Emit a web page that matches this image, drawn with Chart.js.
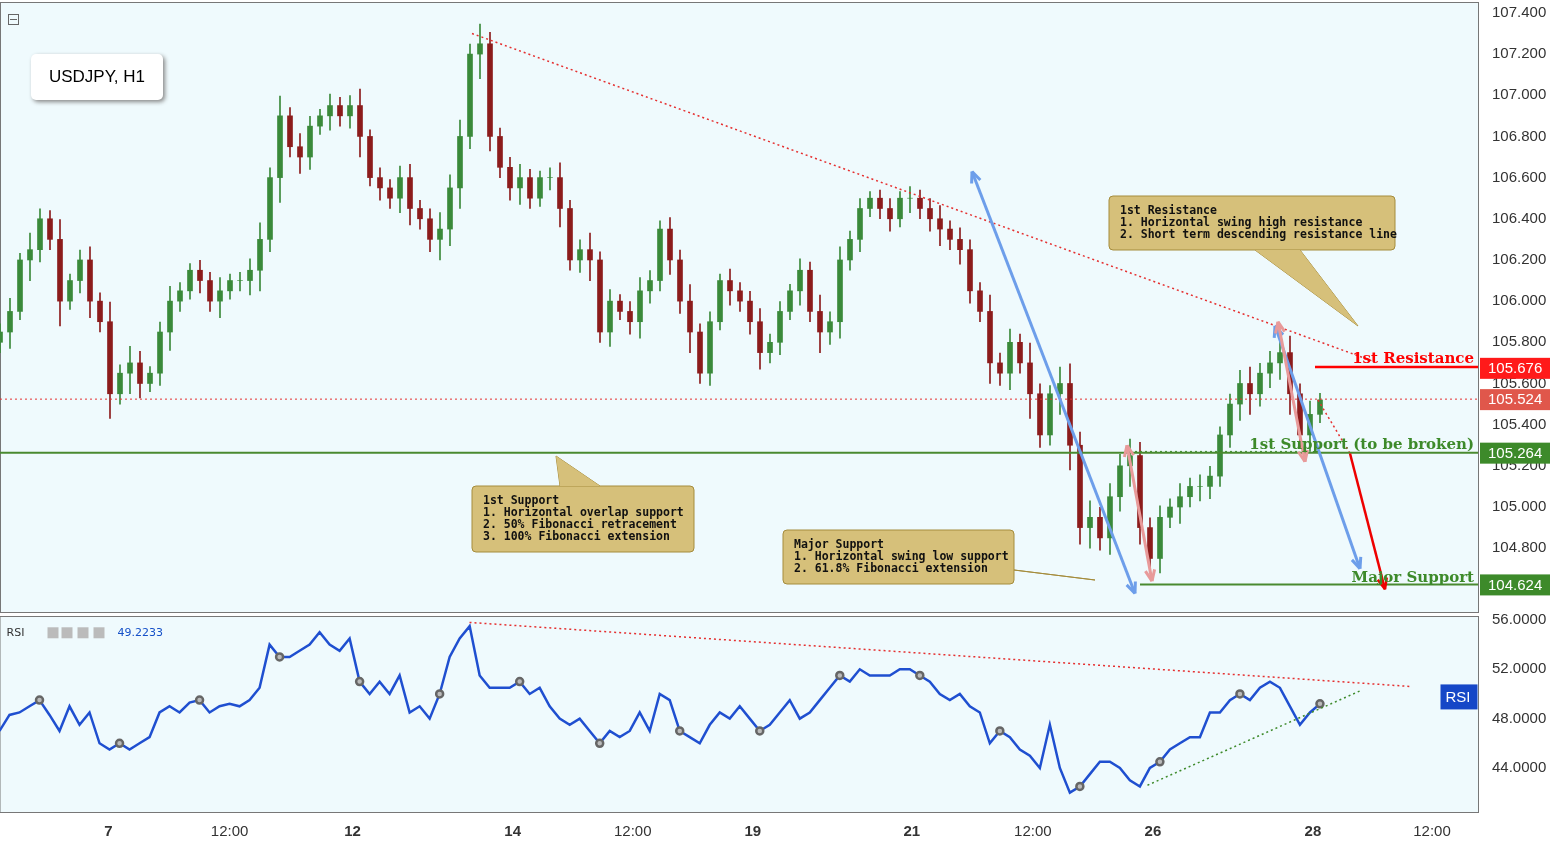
<!DOCTYPE html>
<html><head><meta charset="utf-8">
<script src="https://cdn.jsdelivr.net/npm/chart.js@4"></script>
<style>
body{margin:0;background:#fff;width:1553px;height:845px;overflow:hidden;font-family:"DejaVu Sans",sans-serif}
#w1{position:absolute;left:0;top:-13px;width:1553px;height:640px}
#w2{position:absolute;left:-7px;top:601px;width:1560px;height:244px}
.box{position:absolute;left:31px;top:54px;width:132px;height:46px;background:#fff;border-radius:5px;box-shadow:2px 2px 4px #888;font:17px "Liberation Sans",sans-serif;line-height:46px;text-align:center}
</style></head><body>
<div id="w2"><canvas id="c2"></canvas></div>
<div id="w1"><canvas id="c1"></canvas></div>
<div class="box">USDJPY, H1</div>
<script>
const closes=[105.85,105.95,106.2,106.25,106.4,106.3,106.0,106.1,106.2,106.0,105.9,
105.55,105.65,105.7,105.6,105.65,105.85,106.0,106.05,106.15,106.1,
106.0,106.05,106.1,106.1,106.15,106.3,106.6,106.9,106.75,106.7,
106.85,106.9,106.95,106.9,106.95,106.8,106.6,106.55,106.5,106.6,
106.45,106.4,106.3,106.35,106.55,106.8,107.2,107.25,106.8,106.65,
106.55,106.6,106.5,106.6,106.6,106.45,106.2,106.25,106.2,105.85,
106.0,105.95,105.9,106.05,106.1,106.35,106.2,106.0,105.85,105.65,
105.9,106.1,106.05,106.0,105.9,105.75,105.8,105.95,106.05,106.15,
105.95,105.85,105.9,106.2,106.3,106.45,106.5,106.45,106.4,106.5,
106.5,106.45,106.4,106.35,106.3,106.25,106.05,105.95,105.7,105.65,
105.8,105.7,105.55,105.35,105.55,105.6,105.3,104.9,104.95,104.85,
105.05,105.2,105.25,104.9,104.75,104.95,105.0,105.05,105.1,105.1,
105.15,105.35,105.5,105.6,105.55,105.65,105.7,105.75,105.55,105.35,
105.45,105.52];
const wick=[.05,.08,.04,.1,.06,.05,.12,.04,.06,.08,.05,.12,.05,.1,.07,.04,.06,.09,.05,.04,.06,.05,.08,.04,.05,.07,.1,.06,.12,.05,.08,.06,.04,.07,.05,.06,.1,.04,.06,.05,.07,.08,.05,.06,.1,.08,.1,.06,.12,.07,.05,.06,.08,.05,.04,.06,.09,.05,.06,.1,.05,.07,.04,.06,.08,.06,.05,.07,.06,.1,.05,.06,.04,.07,.05,.06,.08,.05,.06,.04,.07,.05,.1,.06,.08,.05,.06,.04,.05,.06,.04,.07,.05,.06,.08,.05,.07,.06,.05,.1,.06,.08,.05,.12,.06,.05,.1,.12,.08,.1,.06,.08,.07,.1,.08,.06,.07,.05,.08,.05,.07,.06,.05,.06,.08,.1,.06,.07,.08,.1,.06,.08,.04];
const rsi=[47,48.3,48.5,49,49.5,48.3,47,49,47.5,48.5,46,
45.5,46,45.5,46,46.5,48.5,49,48.5,49.3,49.5,
48.5,49,49.2,49,49.5,50.5,54,53,53,53.5,
54,55,54,53.5,54.5,51,50,51,50,51.5,
48.5,49,48,50,53,54.5,55.5,51.5,50.5,50.5,
50.5,51,50,50.5,49,48,47.5,48,47,46,
47,46.5,47,48.5,47,50,49.5,47,46.5,46,
47.5,48.5,48,49,48,47,47.5,48.5,49.5,48,
48.5,49.5,50.5,51.5,51,52,51.5,51.5,51.5,52,
52,51.5,51,50,49.5,50,49,48.5,46,47,
46.5,45.5,45,44,47.5,44,42,42.5,43.5,44.5,
44.5,44,43,42.5,44,44.5,45.5,46,46.5,46.5,
48.5,48.5,49.5,50,49.5,50.5,51,50.5,49,47.5,
48.5,49.2];
const tickVals=[10.9,23,35.3,51.3,63.3,75.3,91.2,103.3,115.3,131.3,143.2];
const tickLabels=['7','12:00','12','14','12:00','19','21','12:00','26','28','12:00'];
const priceTicks=[107.4,107.2,107.0,106.8,106.6,106.4,106.2,106.0,105.8,105.6,105.4,105.2,105.0,104.8];
const rsiTicks=[56,52,48,44];
const levels={res:105.676,last:105.524,sup:105.264,major:104.624};

const opens=closes.map((c,i)=>i?closes[i-1]:c-0.05);
const body=closes.map((c,i)=>({x:i,y:[opens[i],c]}));
const wk=closes.map((c,i)=>({x:i,y:[Math.min(opens[i],c)-wick[i],Math.max(opens[i],c)+wick[i]*0.8]}));
const col=closes.map((c,i)=>c>=opens[i]?'#3a8a3a':'#8c1c1c');
const BG='#effafd';
const bgPlug={id:'bg',beforeDraw(ch){const a=ch.chartArea,x=ch.ctx;x.save();x.fillStyle=BG;x.fillRect(a.left,a.top,a.right-a.left,a.bottom-a.top);x.strokeStyle='#777';x.lineWidth=1;x.strokeRect(a.left+.5,a.top+.5,a.right-a.left,a.bottom-a.top);x.restore();}};
const yFit=s=>{s.width=75};
function arrow(c,x1,y1,x2,y2,color,w,both){c.save();c.strokeStyle=color;c.fillStyle=color;c.lineWidth=w;c.beginPath();c.moveTo(x1,y1);c.lineTo(x2,y2);c.stroke();
 const head=(ax,ay,bx,by)=>{const a=Math.atan2(by-ay,bx-ax);c.beginPath();c.moveTo(bx,by);c.lineTo(bx-12*Math.cos(a-0.4),by-12*Math.sin(a-0.4));c.moveTo(bx,by);c.lineTo(bx-12*Math.cos(a+0.4),by-12*Math.sin(a+0.4));c.stroke();};
 head(x1,y1,x2,y2);if(both)head(x2,y2,x1,y1);c.restore();}
function callout(c,x,y,w,h,lines,tx,ty,bx1,bx2,by){c.save();c.fillStyle='#d6c07a';c.strokeStyle='#a58c3c';c.lineWidth=1;
 c.beginPath();c.moveTo(bx1,by);c.lineTo(tx,ty);c.lineTo(bx2,by);c.fill();c.stroke();
 c.beginPath();c.roundRect(x,y,w,h,4);c.fill();c.stroke();
 c.beginPath();c.moveTo(bx1,by);c.lineTo(tx,ty);c.lineTo(bx2,by);c.closePath();c.fill();
 c.fillStyle='#111';c.font='bold 11.5px "DejaVu Sans Mono",monospace';lines.forEach((l,i)=>c.fillText(l,x+11,y+18+i*12));c.restore();}
function tag(c,y,txt,bg){c.save();c.fillStyle=bg;c.fillRect(1480,y-10,70,21);c.fillStyle='#fff';c.font='15px "Liberation Sans",sans-serif';c.textBaseline='middle';c.fillText(txt,1488,y+1);c.restore();}
const ann1={id:'ann1',afterDatasetsDraw(ch){const c=ch.ctx,Y=v=>ch.scales.y.getPixelForValue(v),a=ch.chartArea;
 c.save();
 c.setLineDash([2,3]);c.strokeStyle='#e53030';c.lineWidth=1.5;c.beginPath();c.moveTo(472,Y(107.3));c.lineTo(1372,Y(105.71));c.stroke();
 c.lineWidth=1;c.beginPath();c.moveTo(a.left,Y(levels.last));c.lineTo(a.right,Y(levels.last));c.stroke();
 c.lineWidth=1.5;c.beginPath();c.moveTo(1318,Y(105.52));c.lineTo(1350,Y(105.26));c.stroke();
 c.lineWidth=1;c.strokeStyle='#3d8a2a';c.beginPath();c.moveTo(1130,Y(105.27));c.lineTo(1300,Y(105.27));c.stroke();
 c.setLineDash([]);c.strokeStyle='#4a8a30';c.lineWidth=2;c.beginPath();c.moveTo(a.left,Y(levels.sup));c.lineTo(a.right,Y(levels.sup));c.stroke();
 c.beginPath();c.moveTo(1140,Y(levels.major));c.lineTo(a.right,Y(levels.major));c.stroke();
 c.strokeStyle='#ff0000';c.lineWidth=2.5;c.beginPath();c.moveTo(1315,Y(105.68));c.lineTo(a.right,Y(105.68));c.stroke();
 c.restore();
 arrow(c,972,Y(106.63),1135,Y(104.58),'#6d9eea',3,true);
 arrow(c,1275,Y(105.88),1360,Y(104.7),'#6d9eea',3,true);
 arrow(c,1127,Y(105.3),1152,Y(104.64),'#e89a9a',3,true);
 arrow(c,1278,Y(105.9),1305,Y(105.22),'#e89a9a',3,true);
 arrow(c,1350,Y(105.26),1385,Y(104.6),'#ee0000',2.5,false);
 c.save();c.font='bold 15px "DejaVu Serif",serif';c.fillStyle='#ff0000';c.textAlign='right';c.fillText('1st Resistance',1474,Y(105.72)+4);
 c.fillStyle='#3d8a2a';c.fillText('1st Support (to be broken)',1474,Y(105.3)+4);c.fillText('Major Support',1474,Y(104.66)+5);c.restore();
 callout(c,1109,196+13,286,54,['1st Resistance','1. Horizontal swing high resistance','2. Short term descending resistance line'],1358,326+13,1255,1300,250+13);
 callout(c,472,486+13,222,66,['1st Support','1. Horizontal overlap support','2. 50% Fibonacci retracement','3. 100% Fibonacci extension'],556,456+13,560,600,486+13);
 callout(c,783,530+13,231,54,['Major Support','1. Horizontal swing low support','2. 61.8% Fibonacci extension'],1095,580+13,1014,1014,570+13);
 tag(c,Y(levels.res),levels.res.toFixed(3),'#ff1a1a');tag(c,Y(levels.last),levels.last.toFixed(3),'#e0574b');
 tag(c,Y(levels.sup),levels.sup.toFixed(3),'#3d8a2a');tag(c,Y(levels.major),levels.major.toFixed(3),'#3d8a2a');
 c.save();c.strokeStyle='#666';c.strokeRect(8.5,27.5,10,10);c.beginPath();c.moveTo(10,32.5);c.lineTo(17,32.5);c.stroke();c.restore();
}};
new Chart(document.getElementById('c1'),{type:'bar',
 data:{datasets:[{data:wk,backgroundColor:col,barThickness:1,grouped:false},{data:body,backgroundColor:col,barThickness:5,grouped:false}]},
 options:{animation:false,responsive:true,maintainAspectRatio:false,layout:{padding:{left:0,top:0,bottom:4}},
 plugins:{legend:{display:false},tooltip:{enabled:false}},
 scales:{x:{type:'linear',offset:false,min:0,max:147.8,display:false},
 y:{position:'right',min:104.49,max:107.453,afterFit:yFit,grid:{display:false},border:{color:'#777'},
   afterBuildTicks:s=>{s.ticks=priceTicks.map(v=>({value:v}))},ticks:{color:'#333',font:{size:15,family:'"Liberation Sans"'},callback:v=>v.toFixed(3),padding:6}}}},
 plugins:[bgPlug,ann1]});
const ann2={id:'ann2',afterDatasetsDraw(ch){const c=ch.ctx,Y=v=>ch.scales.y.getPixelForValue(v),L=ch.chartArea.left;c.save();
 c.setLineDash([2,3]);c.lineWidth=1.5;c.strokeStyle='#e53030';c.beginPath();c.moveTo(L+470,Y(55.8));c.lineTo(L+1412,Y(50.6));c.stroke();
 c.strokeStyle='#3d8a2a';c.beginPath();c.moveTo(L+1148,Y(42.6));c.lineTo(L+1362,Y(50.3));c.stroke();c.setLineDash([]);
 c.font='11px "DejaVu Sans"';c.fillStyle='#333';c.fillText('RSI',L+7,Y(55)+4);c.fillStyle='#1550c8';c.fillText('49.2233',L+118,Y(55)+4);
 c.fillStyle='#bbb';[48,62,78,94].forEach(x=>c.fillRect(L+x,Y(55)-5,11,11));
 c.fillStyle='#1547c7';c.fillRect(L+1441,Y(49.8)-12,37,25);c.fillStyle='#fff';c.font='15px "Liberation Sans"';c.fillText('RSI',L+1446,Y(49.8)+6);c.restore();}};
new Chart(document.getElementById('c2'),{type:'line',
 data:{datasets:[{data:rsi.map((v,i)=>({x:i,y:v})),borderColor:'#1f4fd0',borderWidth:2.5,pointRadius:rsi.map((v,i)=>i%8==4?3.5:0),pointBackgroundColor:'#bbb',pointBorderColor:'#666',tension:0}]},
 options:{animation:false,responsive:true,maintainAspectRatio:false,layout:{padding:{top:2}},
 plugins:{legend:{display:false},tooltip:{enabled:false}},
 scales:{x:{type:'linear',min:0,max:147.8,grid:{display:false},border:{color:'#777'},
   afterBuildTicks:s=>{s.ticks=tickVals.map(v=>({value:v}))},afterFit:s=>{s.height=33},
   ticks:{color:'#333',maxRotation:0,font:s=>({size:15,family:'"Liberation Sans"',weight:(['7','12','14','19','21','26','28'].includes(tickLabels[tickVals.indexOf(s.tick&&s.tick.value)])?'bold':'normal')}),callback:v=>tickLabels[tickVals.indexOf(v)]}},
 y:{position:'right',min:40.43,max:56.32,afterFit:yFit,grid:{display:false},border:{color:'#777'},
   afterBuildTicks:s=>{s.ticks=rsiTicks.map(v=>({value:v}))},ticks:{color:'#333',font:{size:15,family:'"Liberation Sans"'},callback:v=>v.toFixed(4),padding:6}}}},
 plugins:[bgPlug,ann2]});
</script></body></html>
